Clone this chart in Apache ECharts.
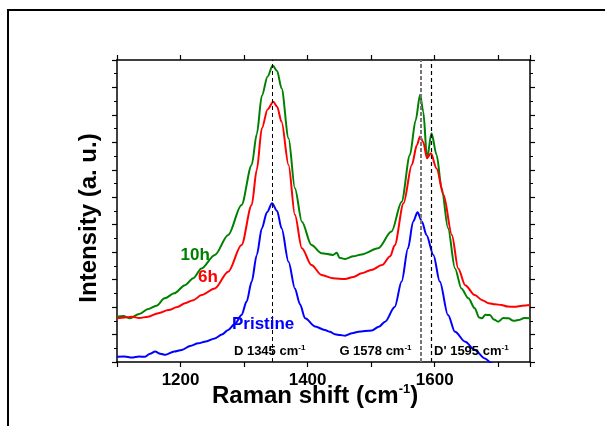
<!DOCTYPE html>
<html>
<head>
<meta charset="utf-8">
<script src="https://cdn.jsdelivr.net/npm/echarts@6/dist/echarts.min.js"></script>
<style>
  html, body { margin: 0; padding: 0; background: #fff; }
  #main { width: 605px; height: 426px; }
</style>
</head>
<body>
<div id="main"></div>
<script>
'use strict';

// Raman spectra (intensity in arbitrary units)
var pristineShift = [1100, 1112, 1123, 1135, 1144, 1152, 1160, 1168, 1176, 1190, 1202, 1215, 1228, 1240, 1254, 1265, 1275, 1286, 1296, 1304, 1312, 1320, 1328, 1336, 1344, 1352, 1359, 1370, 1380, 1388, 1396, 1412, 1427, 1435, 1443, 1451, 1459, 1470, 1480, 1501, 1512, 1522, 1537, 1548, 1558, 1566, 1573, 1580, 1587, 1598, 1608, 1621, 1632, 1648, 1663, 1679, 1690, 1700];
var pristineIntensity = [0.19, 0.2, 0.16, 0.2, 0.19, 0.3, 0.38, 0.3, 0.26, 0.38, 0.44, 0.58, 0.68, 0.75, 0.86, 1.0, 1.17, 1.4, 1.71, 2.2, 2.93, 3.9, 4.87, 5.45, 5.78, 5.5, 4.87, 3.65, 2.68, 2.1, 1.59, 1.29, 1.17, 1.1, 1.01, 0.98, 0.96, 1.05, 1.1, 1.15, 1.28, 1.47, 2.0, 2.93, 4.14, 5.11, 5.45, 5.11, 4.63, 3.9, 2.93, 1.71, 1.1, 0.74, 0.44, 0.13, -0.05, -0.3];

var sixHourShift = [1100, 1112, 1123, 1135, 1149, 1165, 1181, 1195, 1207, 1220, 1233, 1254, 1275, 1296, 1312, 1320, 1328, 1337, 1346, 1352, 1359, 1370, 1380, 1391, 1406, 1422, 1440, 1459, 1472, 1485, 1500, 1517, 1530, 1537, 1551, 1564, 1572, 1577, 1582, 1588, 1594, 1603, 1614, 1627, 1637, 1648, 1663, 1675, 1685, 1695, 1705, 1715, 1726, 1738, 1750];
var sixHourIntensity = [1.59, 1.62, 1.65, 1.6, 1.65, 1.78, 1.89, 2.0, 2.14, 2.25, 2.44, 2.68, 3.29, 4.26, 5.72, 7.0, 8.51, 9.2, 9.48, 9.3, 8.75, 7.18, 5.36, 4.14, 3.53, 3.17, 3.05, 3.02, 3.1, 3.23, 3.35, 3.53, 3.85, 4.25, 5.78, 7.18, 7.9, 8.21, 8.0, 7.42, 7.6, 7.05, 6.08, 4.63, 3.41, 2.8, 2.44, 2.25, 2.14, 2.1, 2.08, 2.02, 2.01, 2.05, 2.08];

var tenHourShift = [1100, 1110, 1120, 1135, 1149, 1162, 1175, 1190, 1207, 1220, 1233, 1254, 1275, 1296, 1312, 1320, 1328, 1337, 1345, 1352, 1359, 1370, 1380, 1391, 1406, 1422, 1440, 1446, 1450, 1459, 1472, 1485, 1511, 1532, 1548, 1561, 1570, 1577, 1582, 1588, 1595, 1603, 1611, 1621, 1632, 1642, 1653, 1663, 1670, 1674, 1680, 1687, 1693, 1700, 1708, 1716, 1724, 1732, 1741, 1750];
var tenHourIntensity = [1.65, 1.68, 1.59, 1.75, 1.93, 2.05, 2.32, 2.5, 2.8, 3.05, 3.41, 3.9, 4.63, 5.72, 7.18, 8.3, 9.7, 10.4, 10.8, 10.6, 9.97, 8.15, 6.33, 5.11, 4.26, 3.96, 3.9, 3.98, 3.8, 3.75, 3.85, 3.92, 4.14, 4.75, 5.84, 7.54, 8.8, 9.73, 9.12, 7.42, 8.33, 7.54, 6.33, 4.87, 3.41, 2.68, 2.32, 1.96, 1.62, 1.59, 1.72, 1.71, 1.55, 1.47, 1.6, 1.59, 1.5, 1.53, 1.6, 1.59];

var seriesNames = ['Pristine', '6h', '10h'];
var peakNames = ['D', 'G', "D'"];
var peakShift = [1345, 1578, 1595];

var colors = ['#0000ff', '#ff0000', '#008000'];
var FONT = 'Arial, "Liberation Sans", sans-serif';

function zip(xs, ys) {
  return xs.map(function (x, i) { return [x, ys[i]]; });
}

var myChart = echarts.init(document.getElementById('main'));

var xCommon = {
  type: 'value',
  min: 1100,
  max: 1750,
  interval: 100,
  splitLine: { show: false },
  axisLine: { show: true, onZero: false, lineStyle: { color: '#000', width: 1.5 } },
  axisTick: { length: 5, lineStyle: { color: '#000', width: 1.2 } }
};
var yCommon = {
  type: 'value',
  min: 0,
  max: 11,
  interval: 1,
  splitLine: { show: false },
  axisLabel: { show: false },
  axisLine: { show: true, onZero: false, lineStyle: { color: '#000', width: 1.5 } },
  axisTick: { show: true, length: 5, lineStyle: { color: '#000', width: 1.2 } },
  minorTick: { show: true, splitNumber: 2, length: 3, lineStyle: { color: '#000', width: 1 } }
};

var option = {
  animation: false,
  backgroundColor: '#fff',
  grid: { left: 117, right: 75, top: 60, bottom: 64 },
  xAxis: [
    echarts.util.merge({
      position: 'bottom',
      axisLabel: {
        margin: 10,
        color: '#000',
        fontFamily: FONT,
        fontWeight: 'bold',
        fontSize: 17,
        formatter: function (v) { return v % 200 === 0 && v < 1750 ? String(v) : ''; }
      }
    }, xCommon, true),
    echarts.util.merge({ position: 'top', axisLabel: { show: false } }, xCommon, true)
  ],
  yAxis: [
    echarts.util.merge({ position: 'left' }, yCommon, true),
    echarts.util.merge({ position: 'right' }, yCommon, true)
  ],
  series: [
    {
      name: seriesNames[0],
      type: 'line',
      data: zip(pristineShift, pristineIntensity),
      showSymbol: false,
      smooth: 0.3,
      smoothMonotone: 'x',
      clip: true,
      lineStyle: { color: colors[0], width: 2 },
      z: 3,
      markLine: {
        silent: true,
        symbol: 'none',
        label: { show: false },
        data: [
          { xAxis: peakShift[0], lineStyle: { color: '#000', width: 1, type: [4, 3] } },
          { xAxis: peakShift[1], lineStyle: { color: '#777', width: 2, type: [4, 2] } },
          { xAxis: peakShift[2], lineStyle: { color: '#000', width: 1.2, type: [4, 3] } }
        ]
      }
    },
    {
      name: seriesNames[1],
      type: 'line',
      data: zip(sixHourShift, sixHourIntensity),
      showSymbol: false,
      smooth: 0.3,
      smoothMonotone: 'x',
      lineStyle: { color: colors[1], width: 2 },
      z: 2
    },
    {
      name: seriesNames[2],
      type: 'line',
      data: zip(tenHourShift, tenHourIntensity),
      showSymbol: false,
      smooth: 0.3,
      smoothMonotone: 'x',
      lineStyle: { color: colors[2], width: 2 },
      z: 1
    }
  ],
  graphic: [
    {
      // outer frame of the figure
      type: 'rect',
      silent: true,
      shape: { x: 8, y: 10, width: 700, height: 500 },
      style: { fill: 'none', stroke: '#000', lineWidth: 2 }
    },
    {
      type: 'text',
      x: 89,
      y: 218,
      rotation: Math.PI / 2,
      style: {
        text: 'Intensity (a. u.)',
        fill: '#000',
        font: 'bold 24px ' + FONT,
        align: 'center',
        verticalAlign: 'middle'
      }
    },
    {
      type: 'text',
      x: 212,
      y: 396,
      style: {
        text: '{a|Raman shift (cm}{s|-1}{a|)}',
        fill: '#000',
        align: 'left',
        verticalAlign: 'middle',
        rich: {
          a: { fontFamily: FONT, fontWeight: 'bold', fontSize: 24, fill: '#000' },
          s: { fontFamily: FONT, fontWeight: 'bold', fontSize: 13, fill: '#000', padding: [0, 0, 14, 0] }
        }
      }
    }
  ]
};

myChart.setOption(option);

// labels placed at data coordinates through the chart's own scales
var curveLabelAt = [[1330, 1.38], [1243, 3.08], [1223, 3.9]];
var peakLabelAt = [[1284, 0.38], [1450, 0.38], [1599, 0.38]];
var extra = [];
seriesNames.forEach(function (name, i) {
  var p = myChart.convertToPixel({ gridIndex: 0 }, curveLabelAt[i]);
  extra.push({
    type: 'text', x: p[0], y: p[1], z: 10,
    style: { text: name, fill: colors[i], font: 'bold 17px ' + FONT, align: 'center', verticalAlign: 'middle' }
  });
});
peakNames.forEach(function (name, i) {
  var p = myChart.convertToPixel({ gridIndex: 0 }, peakLabelAt[i]);
  extra.push({
    type: 'text', x: p[0], y: p[1], z: 10,
    style: {
      text: '{a|' + name + ' ' + peakShift[i] + ' cm}{s|-1}',
      align: 'left',
      verticalAlign: 'middle',
      rich: {
        a: { fontFamily: FONT, fontWeight: 'bold', fontSize: 13, fill: '#000' },
        s: { fontFamily: FONT, fontWeight: 'bold', fontSize: 8, fill: '#000', padding: [0, 0, 8, 0] }
      }
    }
  });
});
myChart.setOption({ graphic: option.graphic.concat(extra) });
</script>
</body>
</html>
